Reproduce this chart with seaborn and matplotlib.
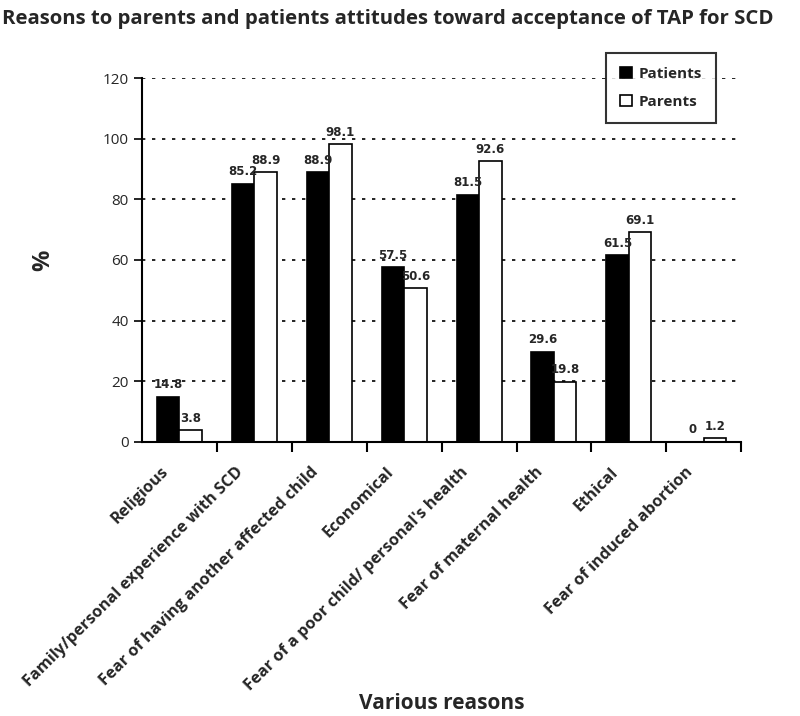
import matplotlib
matplotlib.use("Agg")
import matplotlib.pyplot as plt
import matplotlib.transforms as mtransforms
import pandas as pd
import seaborn as sns

reasons = [
    "Religious",
    "Family/personal experience with SCD",
    "Fear of having another affected child",
    "Economical",
    "Fear of a poor child/ personal's health",
    "Fear of maternal health",
    "Ethical",
    "Fear of induced abortion",
]
patients = [14.8, 85.2, 88.9, 57.5, 81.5, 29.6, 61.5, 0]
parents = [3.8, 88.9, 98.1, 50.6, 92.6, 19.8, 69.1, 1.2]
groups = ["Patients", "Parents"]

df = pd.DataFrame({
    "reason": reasons * 2,
    "group": [groups[0]] * len(reasons) + [groups[1]] * len(reasons),
    "value": patients + parents,
})

sns.set_style("white")
plt.rcParams["font.family"] = ["Open Sans", "DejaVu Sans"]

fig = plt.figure(figsize=(8, 7.16), dpi=100)
ax = fig.add_axes([0.1775, 0.383, 0.749, 0.508])

sns.barplot(data=df, x="reason", y="value", hue="group", order=reasons,
            hue_order=groups, palette=["black", "white"], edgecolor="black",
            linewidth=1.2, width=0.6, ax=ax)

for container in ax.containers:
    ax.bar_label(container, fmt="%g", padding=4, fontsize=8.5,
                 fontweight="bold", family="DejaVu Sans")

ax.set_ylim(0, 120)
ax.set_yticks(range(0, 121, 20))
ax.set_xlim(-0.5, len(reasons) - 0.5)
ax.yaxis.grid(True, linestyle=(0, (2, 4)), color="black", linewidth=1.2)
ax.set_axisbelow(True)
for side in ["top", "right"]:
    ax.spines[side].set_visible(False)
for side in ["left", "bottom"]:
    ax.spines[side].set_color("black")
    ax.spines[side].set_linewidth(1.5)

ax.set_xticks([i + 0.5 for i in range(len(reasons))], minor=True)
ax.tick_params(axis="x", which="minor", length=7, width=1.5, color="black", bottom=True)
ax.tick_params(axis="x", which="major", length=0, labelsize=11.8, pad=16)
ax.tick_params(axis="y", length=6, width=1.2, color="black", left=True, labelsize=11)
shift = mtransforms.ScaledTranslation(-19 / 100, 0, fig.dpi_scale_trans)
for lab in ax.get_xticklabels():
    lab.set_rotation(45)
    lab.set_ha("right")
    lab.set_rotation_mode("anchor")
    lab.set_fontweight("bold")
    lab.set_transform(lab.get_transform() + shift)

ax.set_xlabel("Various reasons", fontsize=15, fontweight="bold")
ax.xaxis.set_label_coords(0.5, -0.69)
ax.set_ylabel("%", fontsize=17, fontweight="bold", labelpad=34)
fig.text(0.003, 0.988, "Reasons to parents and patients attitudes toward acceptance of TAP for SCD",
         fontsize=14.7, fontweight="bold", va="top", ha="left")

leg = ax.legend(loc="upper right", bbox_to_anchor=(0.97, 1.09), frameon=True,
                fancybox=False, edgecolor="black", fontsize=11,
                handlelength=0.8, handleheight=0.8, handletextpad=0.4,
                labelspacing=0.9, borderpad=0.9)
leg.get_frame().set_linewidth(1.5)
for t in leg.get_texts():
    t.set_fontweight("bold")

fig.savefig("out.png", dpi=100)
